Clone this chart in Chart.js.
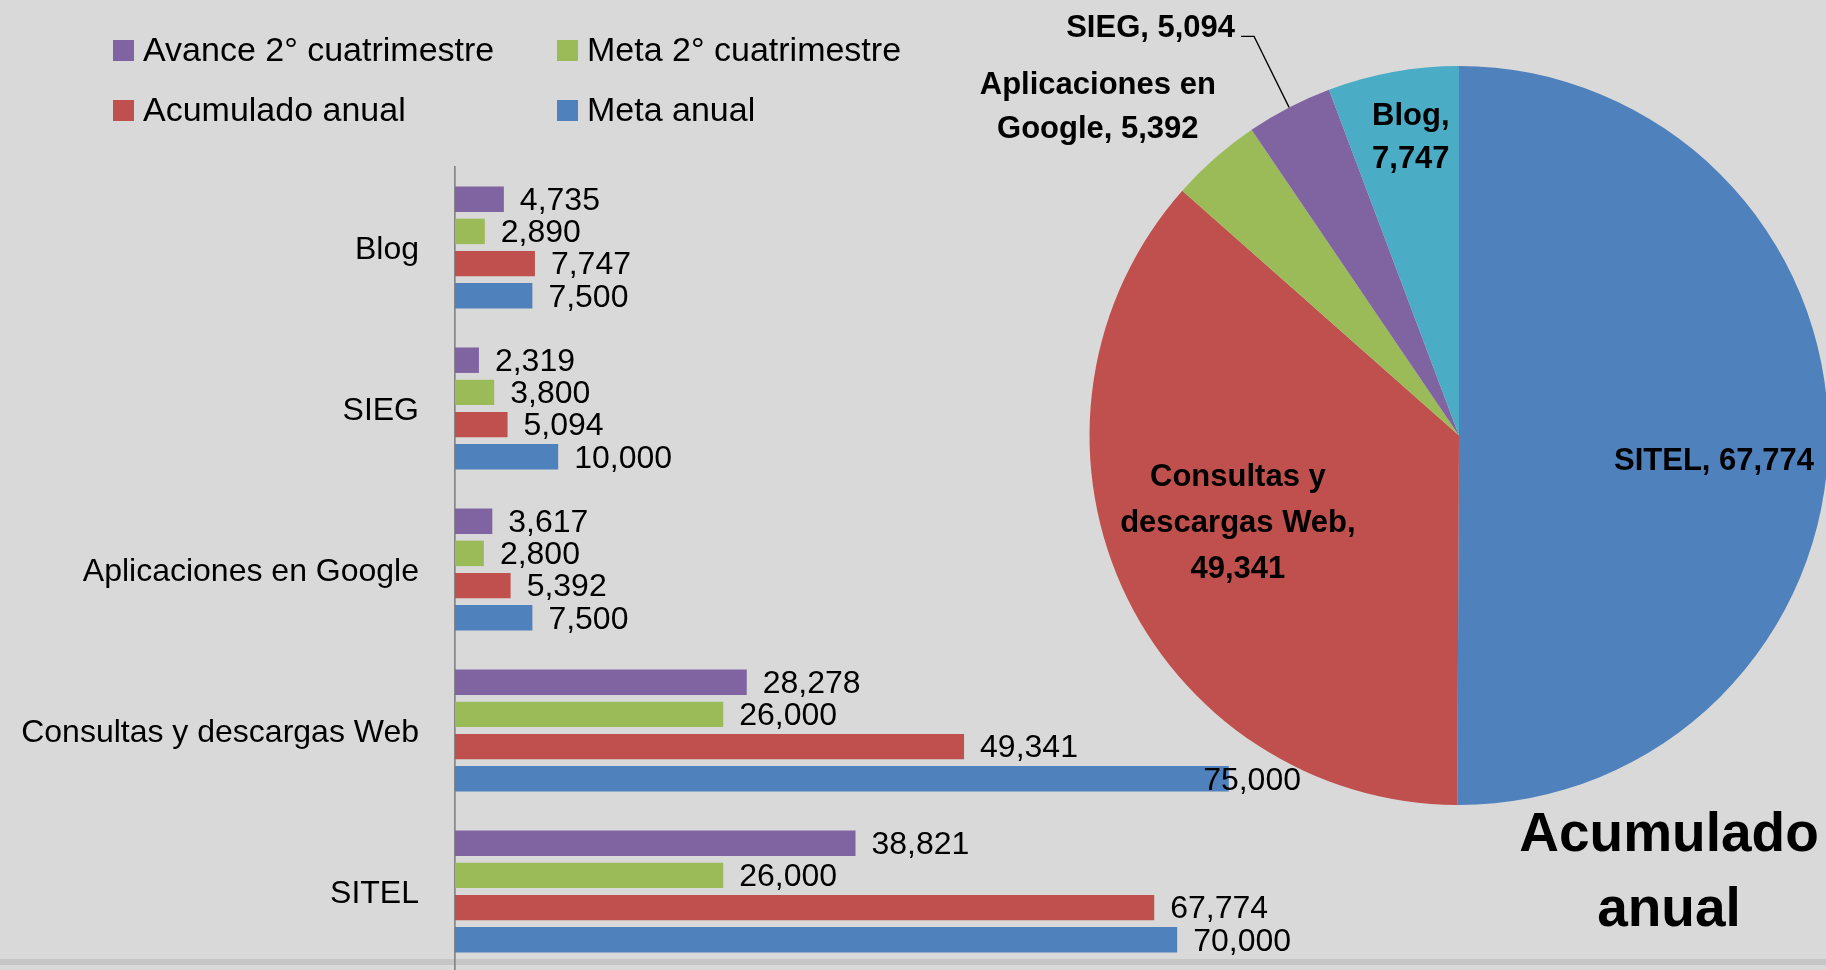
<!DOCTYPE html>
<html>
<head>
<meta charset="utf-8">
<script src="https://cdn.jsdelivr.net/npm/chart.js@4/dist/chart.umd.min.js"></script>
<style>
html,body{margin:0;padding:0;background:#d9d9d9;width:1826px;height:970px;overflow:hidden;position:relative;}
#band{position:absolute;left:0;top:959px;width:1826px;height:6px;background:#c6c6c6;}
#barCanvas{position:absolute;left:0;top:0;}
#pieCanvas{position:absolute;left:0;top:0;}
#pieTitle{position:absolute;left:1469px;width:400px;top:795px;font:bold 55px 'Liberation Sans',Arial,sans-serif;text-align:center;line-height:75px;color:#000;}
</style>
</head>
<body>
<div id="band"></div>
<canvas id="barCanvas" width="1826" height="972"></canvas>
<canvas id="pieCanvas" width="1830" height="970"></canvas>
<div id="pieTitle">Acumulado<br>anual</div>
<script>
// ---- Data ----
const categories = ['Blog', 'SIEG', 'Aplicaciones en Google', 'Consultas y descargas Web', 'SITEL'];
const seriesNames = ['Avance 2° cuatrimestre', 'Meta 2° cuatrimestre', 'Acumulado anual', 'Meta anual'];
const avance2Cuatrimestre = [4735, 2319, 3617, 28278, 38821];
const meta2Cuatrimestre = [2890, 3800, 2800, 26000, 26000];
const acumuladoAnual = [7747, 5094, 5392, 49341, 67774];
const metaAnual = [7500, 10000, 7500, 75000, 70000];

// ---- Styles ----
const seriesColors = ['#8064A2', '#9BBB59', '#C0504D', '#4F81BD'];
const categoryPieColors = ['#4BACC6', '#8064A2', '#9BBB59', '#C0504D', '#4F81BD'];
const FONT = "'Liberation Sans', Arial, sans-serif";
Chart.defaults.font.family = FONT;
Chart.defaults.color = '#000';

const fmt = v => v.toLocaleString('en-US');

// ---- Bar chart ----
const seriesValues = [avance2Cuatrimestre, meta2Cuatrimestre, acumuladoAnual, metaAnual];

const barLabelPlugin = {
  id: 'barLabels',
  afterDatasetsDraw(chart) {
    const ctx = chart.ctx;
    const area = chart.chartArea;
    ctx.save();
    ctx.font = '32px ' + FONT;
    ctx.fillStyle = '#000';
    ctx.textAlign = 'left';
    ctx.textBaseline = 'middle';
    chart.data.datasets.forEach((ds, di) => {
      const meta = chart.getDatasetMeta(di);
      meta.data.forEach((bar, i) => {
        const t = fmt(ds.data[i]);
        const w = ctx.measureText(t).width;
        let x = bar.x + 16;
        if (x + w > area.right) x = area.right - w;
        ctx.fillText(t, x, bar.y + 2);
      });
    });
    ctx.restore();
  },
  afterDraw(chart) {
    // legend in 2x2 grid
    const ctx = chart.ctx;
    ctx.save();
    ctx.font = '34px ' + FONT;
    ctx.textAlign = 'left';
    ctx.textBaseline = 'alphabetic';
    const colX = [113, 557];
    const rowY = [40, 100];
    chart.data.datasets.forEach((ds, di) => {
      const c = di % 2, r = Math.floor(di / 2);
      ctx.fillStyle = ds.backgroundColor;
      ctx.fillRect(colX[c], rowY[r], 21, 21);
      ctx.fillStyle = '#000';
      ctx.fillText(ds.label, colX[c] + 30, rowY[r] + 21);
    });
    ctx.restore();
  }
};

new Chart(document.getElementById('barCanvas'), {
  type: 'bar',
  data: {
    labels: categories,
    datasets: seriesNames.map((name, i) => ({
      label: name,
      data: seriesValues[i],
      backgroundColor: seriesColors[i],
      borderWidth: 0,
      categoryPercentage: 0.8,
      barPercentage: 0.79
    }))
  },
  options: {
    indexAxis: 'y',
    responsive: false,
    animation: false,
    events: [],
    layout: { padding: { top: 167, bottom: 0, left: 0, right: 525 } },
    plugins: { legend: { display: false }, tooltip: { enabled: false }, title: { display: false } },
    scales: {
      x: { display: false, min: 0, max: 82000 },
      y: {
        grid: { display: false, drawTicks: false },
        border: { display: true, color: '#858585', width: 1.7 },
        ticks: { font: { size: 32 }, color: '#000', padding: 36, labelOffset: 3 },
        afterFit(scale) { scale.width = 455; scale.paddingTop = 0; scale.paddingBottom = 0; }
      }
    }
  },
  plugins: [barLabelPlugin]
});

// ---- Pie chart (Acumulado anual), drawn clockwise from top starting with SITEL ----
const pieLabels = categories.slice().reverse();
const pieValues = acumuladoAnual.slice().reverse();
const pieColors = categoryPieColors.slice().reverse();

// label placement (style): radius fraction, nudges, wrap width, line height
const pieLabelLayout = [
  { f: 0.69, dx: 0, dy: 25, maxW: 9999, lh: 44 },   // SITEL
  { f: 0.62, dx: -12, dy: -6, maxW: 250, lh: 46 },  // Consultas
  { f: 1.30, dx: -44, dy: 33, maxW: 250, lh: 44 },  // Aplicaciones
  { leader: true },                                 // SIEG
  { f: 0.82, dx: 6, dy: 1, maxW: 90, lh: 43 }       // Blog
];

function wrap(ctx, text, maxW) {
  const words = text.split(' ');
  const lines = [];
  let cur = '';
  words.forEach(w => {
    const test = cur ? cur + ' ' + w : w;
    if (cur && ctx.measureText(test).width > maxW) { lines.push(cur); cur = w; }
    else cur = test;
  });
  if (cur) lines.push(cur);
  return lines;
}

const pieLabelPlugin = {
  id: 'pieLabels',
  afterDatasetsDraw(chart) {
    const ctx = chart.ctx;
    const meta = chart.getDatasetMeta(0);
    ctx.save();
    ctx.font = 'bold 31px ' + FONT;
    ctx.fillStyle = '#000';
    ctx.strokeStyle = '#000';
    ctx.textBaseline = 'middle';
    ctx.textAlign = 'center';
    meta.data.forEach((arc, i) => {
      const lay = pieLabelLayout[i];
      const mid = (arc.startAngle + arc.endAngle) / 2;
      const R = arc.outerRadius;
      const text = pieLabels[i] + ', ' + fmt(pieValues[i]);
      if (lay.leader) {
        const ex = arc.x + Math.cos(mid) * R, ey = arc.y + Math.sin(mid) * R;
        const kx = ex - 35, ky = ey - 71;
        const sx = kx - 13;
        ctx.lineWidth = 1.3;
        ctx.beginPath();
        ctx.moveTo(ex, ey); ctx.lineTo(kx, ky); ctx.lineTo(sx, ky);
        ctx.stroke();
        ctx.textAlign = 'right';
        ctx.textBaseline = 'alphabetic';
        ctx.fillText(text, sx - 6, ky + 1);
        ctx.textAlign = 'center';
        ctx.textBaseline = 'middle';
        return;
      }
      const cx = arc.x + Math.cos(mid) * R * lay.f + lay.dx;
      const cy = arc.y + Math.sin(mid) * R * lay.f + lay.dy;
      const lines = wrap(ctx, text, lay.maxW);
      const y0 = cy - (lines.length - 1) * lay.lh / 2;
      lines.forEach((l, k) => ctx.fillText(l, cx, y0 + k * lay.lh));
    });
    ctx.restore();
  }
};

new Chart(document.getElementById('pieCanvas'), {
  type: 'pie',
  data: {
    labels: pieLabels,
    datasets: [{ data: pieValues, backgroundColor: pieColors, borderWidth: 0 }]
  },
  options: {
    responsive: false,
    animation: false,
    events: [],
    layout: { padding: { left: 1089, right: 1, top: 66, bottom: 165 } },
    plugins: { legend: { display: false }, tooltip: { enabled: false } }
  },
  plugins: [pieLabelPlugin]
});
</script>
</body>
</html>
